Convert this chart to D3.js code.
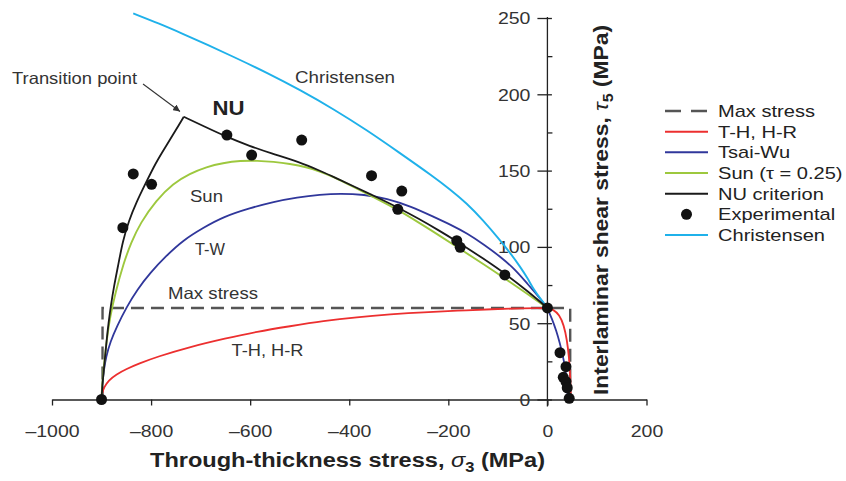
<!DOCTYPE html>
<html><head><meta charset="utf-8">
<script src="https://cdn.jsdelivr.net/npm/d3@7"></script>
<style>
body{margin:0;background:#fff;}
svg{display:block;}
text{font-family:"Liberation Sans",Arial,Helvetica,sans-serif;}
</style>
</head><body>
<svg id="c" width="846" height="481"></svg>
<script>
// ---------- data (sigma_3 MPa, tau_5 MPa) ----------
const xTicks = [-1000, -800, -600, -400, -200, 0, 200];
const yTicks = [0, 50, 100, 150, 200, 250];
const yMinorTicks = [25, 75, 125, 175, 225];

const maxStress = [[-898,0],[-898,60],[46,60],[46,0]];

const thhr = [[-900,0],[-899,4],[-895,8],[-886,12.5],[-870,16.5],[-850,20],[-825,23.5],[-788,28],
  [-721,34.5],[-650,40],[-586,44.5],[-520,48],[-452,51.5],[-385,54],[-317,55.8],[-250,57.2],
  [-182,58.2],[-110,59.2],[-50,59.8],[0,60],[12,59],[24,55.5],[33,49],[39.5,39],[43.5,28],
  [46,16],[47,6],[47,0]];

const tsaiWu = [[-900,0],[-899,8],[-896,18],[-891,28],[-882,38],[-869,48],[-849,60.8],[-828,72],
  [-802,83],[-770,94],[-735,104.5],[-695,112.5],[-654,119.8],[-600,125.5],[-553,129.6],
  [-505,132.5],[-459,134.3],[-418,135],[-370,134.3],[-324,131.8],[-275,126.5],[-230,119.8],
  [-195,114.5],[-162,108.9],[-128,101.5],[-95,93.6],[-66,85.5],[-41,76.1],[-18,67.5],[0,60],
  [9,53],[18,45],[25,37],[31,29],[36,20.5],[39,12],[40.5,5],[41,0]];

const sun = [[-900,0],[-899,8],[-897,16],[-894,26],[-889,40],[-883,54],[-872,70],[-856,89],
  [-840,103],[-822,115.5],[-790,130.5],[-755,141.7],[-722,148],[-688,152.5],[-655,155],[-620,156.5],
  [-585,156.5],[-553,155.8],[-520,154.5],[-486,152.3],[-460,149.5],[-432,146],[-390,139],
  [-344,131.5],[-300,124],[-260,116],[-218,107.5],[-176,98.5],[-130,89],[-82,78.5],[-40,69],[0,60]];

const nuLeft = [[-900,0],[-899,6],[-897,14],[-894,24],[-890,38],[-886,50],[-881,62],[-875,74],
  [-867,87],[-857,104],[-845,117],[-830,129],[-812,141],[-790,155.5],[-770,166],[-750,176.5],
  [-734,185.3]];
const nuRight = [[-734,185.3],[-690,178.5],[-647,172],[-600,166],[-560,161.5],[-499,155.5],
  [-460,150],[-432,146],[-390,139.5],[-344,132.5],[-300,125.5],[-260,118.5],[-220,111],
  [-182,103.5],[-130,92.5],[-81,81.5],[-40,71],[0,60]];

const christensen = [[-836,253],[-785,246.5],[-735,239.5],[-685,232.3],[-634,224.6],[-565,214],
  [-499,202.8],[-430,190],[-365,176.6],[-300,162],[-230,146],[-196,137.5],[-163,128.6],
  [-130,117.5],[-96,104.5],[-75,96],[-55,87],[-40,79.5],[-28.5,72.5],[-14,66],[0,60]];

const experimental = [[-900,0],[-857,112.6],[-836,147.8],[-799,141],[-647,173.3],[-597,160.2],
  [-496,170],[-355,146.7],[-294,136.6],[-302,124.6],[-183,104.1],[-176,99.7],[-86,81.6],[0,60],
  [25.4,30.7],[37.5,21.5],[32,14.5],[37.5,11.7],[40,7.7],[44,0.8]];

const legendNames = ["Max stress","T-H, H-R","Tsai-Wu","Sun (\u03c4 = 0.25)","NU criterion","Experimental","Christensen"];

// ---------- styles ----------
const C = {max:"#555555", red:"#ec2f2f", blue:"#30379b", green:"#9dc83e", cyan:"#1fb1ea", black:"#1a1a1a"};

const svg = d3.select("#c");
const x = d3.scaleLinear().domain([-1000, 200]).range([52, 646.5]);
const y = d3.scaleLinear().domain([0, 250]).range([399.5, 18]);

function stretch(sel, f){
  sel.each(function(){
    const w = this.getComputedTextLength();
    this.setAttribute("textLength", (w*f).toFixed(1));
    this.setAttribute("lengthAdjust","spacingAndGlyphs");
  });
}
function fitTo(sel, w){
  sel.attr("textLength", w).attr("lengthAdjust","spacingAndGlyphs");
}

// ---------- axes ----------
const gx = svg.append("g").attr("transform", `translate(0,${y(0)})`)
  .call(d3.axisBottom(x).tickValues(xTicks).tickSize(6).tickSizeOuter(0).tickPadding(19)
    .tickFormat(d => d < 0 ? "\u2013" + Math.abs(d) : String(d)));
gx.select(".domain").attr("stroke","#222").attr("stroke-width",1.3);
gx.selectAll(".tick line").attr("stroke","#222").attr("stroke-width",1.3);
const xt = gx.selectAll(".tick text").attr("font-size",16.5).attr("fill","#333")
  .attr("font-family",'"Liberation Sans",Arial,sans-serif').attr("dy",0).attr("y",37.5);
stretch(xt, 1.18);

const gy = svg.append("g").attr("transform", `translate(${x(0)},0)`)
  .call(d3.axisLeft(y).tickValues(yTicks).tickSize(10).tickSizeOuter(0).tickPadding(7));
gy.select(".domain").attr("stroke","#222").attr("stroke-width",1.3).attr("d", `M0,${y(250)-1}V${y(0)+7}`);
gy.selectAll(".tick line").attr("stroke","#222").attr("stroke-width",1.3).attr("x2",-10).attr("x1",4.5);
const yt = gy.selectAll(".tick text").attr("font-size",16.5).attr("fill","#333")
  .attr("font-family",'"Liberation Sans",Arial,sans-serif').attr("dy","0.36em");
stretch(yt, 1.18);

const gy2 = svg.append("g").attr("transform", `translate(${x(0)},0)`)
  .call(d3.axisRight(y).tickValues(yMinorTicks).tickSize(5).tickSizeOuter(0).tickFormat(""));
gy2.select(".domain").remove();
gy2.selectAll(".tick line").attr("stroke","#222").attr("stroke-width",1.3);

// ---------- curves ----------
const line = d3.line().x(d => x(d[0])).y(d => y(d[1]));
const smooth = d3.line().x(d => x(d[0])).y(d => y(d[1])).curve(d3.curveBasis);

svg.append("path").attr("d", line(maxStress)).attr("fill","none").attr("stroke",C.max)
  .attr("stroke-width",2.4).attr("stroke-dasharray","13,7");
svg.append("path").attr("d", smooth(thhr)).attr("fill","none").attr("stroke",C.red).attr("stroke-width",1.8);
svg.append("path").attr("d", smooth(tsaiWu)).attr("fill","none").attr("stroke",C.blue).attr("stroke-width",1.8);
svg.append("path").attr("d", smooth(sun)).attr("fill","none").attr("stroke",C.green).attr("stroke-width",1.9);
svg.append("path").attr("d", smooth(christensen)).attr("fill","none").attr("stroke",C.cyan).attr("stroke-width",1.9);
svg.append("path").attr("d", smooth(nuLeft)).attr("fill","none").attr("stroke",C.black).attr("stroke-width",1.8);
svg.append("path").attr("d", smooth(nuRight)).attr("fill","none").attr("stroke",C.black).attr("stroke-width",1.8);

svg.append("g").selectAll("circle").data(experimental).join("circle")
  .attr("cx", d => x(d[0])).attr("cy", d => y(d[1])).attr("r",5.5).attr("fill","#111");

// ---------- annotations ----------
function label(txt, xx, yy, w, opts={}){
  const t = svg.append("text").attr("x",xx).attr("y",yy).text(txt)
    .attr("font-size", opts.size || 16.5).attr("fill", opts.fill || "#333")
    .attr("font-weight", opts.weight || "normal");
  fitTo(t, w);
  return t;
}
label("Transition point", 12, 83.5, 125);
label("NU", 212.5, 115, 32, {size:21, weight:"bold", fill:"#222"});
label("Christensen", 295, 82.5, 100);
label("Sun", 190, 201.5, 33);
label("T-W", 195, 255, 30);
label("Max stress", 168, 299, 90);
label("T-H, H-R", 231.5, 356, 72);

// arrow
svg.append("defs").append("marker").attr("id","ah").attr("viewBox","0 0 10 10")
  .attr("refX",10).attr("refY",5).attr("markerWidth",7).attr("markerHeight",7)
  .attr("markerUnits","userSpaceOnUse").attr("orient","auto")
  .append("path").attr("d","M0,0L10,5L0,10Z").attr("fill","#333");
svg.append("line").attr("x1",143).attr("y1",84).attr("x2",180).attr("y2",111.5)
  .attr("stroke","#333").attr("stroke-width",1.1).attr("marker-end","url(#ah)");

// ---------- axis titles ----------
const xtitle = svg.append("text").attr("x",347.5).attr("y",467).attr("text-anchor","middle")
  .attr("font-size",20).attr("font-weight","bold").attr("fill","#222");
xtitle.append("tspan").text("Through-thickness stress, ");
xtitle.append("tspan").text("\u03c3").attr("font-style","italic").attr("font-weight","normal");
xtitle.append("tspan").text("3").attr("font-size",14).attr("dy",5);
xtitle.append("tspan").text(" (MPa)").attr("dy",-5);
fitTo(xtitle, 395);

const ytitle = svg.append("text").attr("transform","translate(607.5,210) rotate(-90)")
  .attr("text-anchor","middle").attr("font-size",20).attr("font-weight","bold").attr("fill","#222");
ytitle.append("tspan").text("Interlaminar shear stress,  ");
ytitle.append("tspan").text("\u03c4").attr("font-style","italic").attr("font-weight","normal");
ytitle.append("tspan").text("5").attr("font-size",14).attr("dy",5);
ytitle.append("tspan").text(" (MPa)").attr("dy",-5);
fitTo(ytitle, 370);

// ---------- legend ----------
const lg = svg.append("g");
const rowY = i => 111 + i * 20.67;
const lcol = [C.max, C.red, C.blue, C.green, C.black, null, C.cyan];
legendNames.forEach((name, i) => {
  const yy = rowY(i);
  if (i === 5) {
    lg.append("circle").attr("cx",686.5).attr("cy",yy).attr("r",5.5).attr("fill","#111");
  } else {
    const l = lg.append("line").attr("x1",665).attr("x2",708).attr("y1",yy).attr("y2",yy)
      .attr("stroke",lcol[i]).attr("stroke-width", i===0 ? 2.4 : 2);
    if (i === 0) l.attr("stroke-dasharray","16,10");
  }
  const t = lg.append("text").attr("x",718).attr("y",yy+6).text(name)
    .attr("font-size",17).attr("fill","#222");
  stretch(t, 1.18);
});
</script>
</body></html>
